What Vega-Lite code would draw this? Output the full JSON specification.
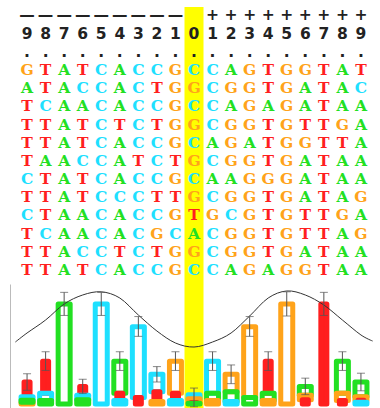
{
"$schema": "https://vega.github.io/schema/vega-lite/v6.json",
"background": "white",
"padding": {"left": 10, "top": 7, "right": 2, "bottom": 0},
"spacing": 0,
"bounds": "flush",
"config": {"view": {"stroke": null}},
"datasets": {
"hl": [{"p": 0}],
"hdr": [
{"p":-9,"r":-2,"t":"—"},{"p":-8,"r":-2,"t":"—"},{"p":-7,"r":-2,"t":"—"},{"p":-6,"r":-2,"t":"—"},{"p":-5,"r":-2,"t":"—"},{"p":-4,"r":-2,"t":"—"},{"p":-3,"r":-2,"t":"—"},{"p":-2,"r":-2,"t":"—"},{"p":-1,"r":-2,"t":"—"},
{"p":1,"r":-2,"t":"+"},{"p":2,"r":-2,"t":"+"},{"p":3,"r":-2,"t":"+"},{"p":4,"r":-2,"t":"+"},{"p":5,"r":-2,"t":"+"},{"p":6,"r":-2,"t":"+"},{"p":7,"r":-2,"t":"+"},{"p":8,"r":-2,"t":"+"},{"p":9,"r":-2,"t":"+"},
{"p":-9,"r":-1,"t":"9"},{"p":-8,"r":-1,"t":"8"},{"p":-7,"r":-1,"t":"7"},{"p":-6,"r":-1,"t":"6"},{"p":-5,"r":-1,"t":"5"},{"p":-4,"r":-1,"t":"4"},{"p":-3,"r":-1,"t":"3"},{"p":-2,"r":-1,"t":"2"},{"p":-1,"r":-1,"t":"1"},{"p":0,"r":-1,"t":"0"},
{"p":1,"r":-1,"t":"1"},{"p":2,"r":-1,"t":"2"},{"p":3,"r":-1,"t":"3"},{"p":4,"r":-1,"t":"4"},{"p":5,"r":-1,"t":"5"},{"p":6,"r":-1,"t":"6"},{"p":7,"r":-1,"t":"7"},{"p":8,"r":-1,"t":"8"},{"p":9,"r":-1,"t":"9"},
{"p":-9,"r":0,"t":"."},{"p":-8,"r":0,"t":"."},{"p":-7,"r":0,"t":"."},{"p":-6,"r":0,"t":"."},{"p":-5,"r":0,"t":"."},{"p":-4,"r":0,"t":"."},{"p":-3,"r":0,"t":"."},{"p":-2,"r":0,"t":"."},{"p":-1,"r":0,"t":"."},{"p":0,"r":0,"t":"."},
{"p":1,"r":0,"t":"."},{"p":2,"r":0,"t":"."},{"p":3,"r":0,"t":"."},{"p":4,"r":0,"t":"."},{"p":5,"r":0,"t":"."},{"p":6,"r":0,"t":"."},{"p":7,"r":0,"t":"."},{"p":8,"r":0,"t":"."},{"p":9,"r":0,"t":"."}
],
"seq": [
{"r":1,"p":-9,"n":"G"},{"r":1,"p":-8,"n":"T"},{"r":1,"p":-7,"n":"A"},{"r":1,"p":-6,"n":"T"},{"r":1,"p":-5,"n":"C"},{"r":1,"p":-4,"n":"A"},{"r":1,"p":-3,"n":"C"},{"r":1,"p":-2,"n":"C"},{"r":1,"p":-1,"n":"G"},{"r":1,"p":0,"n":"C"},{"r":1,"p":1,"n":"C"},{"r":1,"p":2,"n":"A"},{"r":1,"p":3,"n":"G"},{"r":1,"p":4,"n":"T"},{"r":1,"p":5,"n":"G"},{"r":1,"p":6,"n":"G"},{"r":1,"p":7,"n":"T"},{"r":1,"p":8,"n":"A"},{"r":1,"p":9,"n":"T"},
{"r":2,"p":-9,"n":"A"},{"r":2,"p":-8,"n":"T"},{"r":2,"p":-7,"n":"A"},{"r":2,"p":-6,"n":"C"},{"r":2,"p":-5,"n":"C"},{"r":2,"p":-4,"n":"A"},{"r":2,"p":-3,"n":"C"},{"r":2,"p":-2,"n":"T"},{"r":2,"p":-1,"n":"G"},{"r":2,"p":0,"n":"G"},{"r":2,"p":1,"n":"C"},{"r":2,"p":2,"n":"G"},{"r":2,"p":3,"n":"G"},{"r":2,"p":4,"n":"T"},{"r":2,"p":5,"n":"G"},{"r":2,"p":6,"n":"A"},{"r":2,"p":7,"n":"T"},{"r":2,"p":8,"n":"A"},{"r":2,"p":9,"n":"C"},
{"r":3,"p":-9,"n":"T"},{"r":3,"p":-8,"n":"C"},{"r":3,"p":-7,"n":"A"},{"r":3,"p":-6,"n":"A"},{"r":3,"p":-5,"n":"C"},{"r":3,"p":-4,"n":"A"},{"r":3,"p":-3,"n":"C"},{"r":3,"p":-2,"n":"C"},{"r":3,"p":-1,"n":"G"},{"r":3,"p":0,"n":"C"},{"r":3,"p":1,"n":"C"},{"r":3,"p":2,"n":"A"},{"r":3,"p":3,"n":"G"},{"r":3,"p":4,"n":"A"},{"r":3,"p":5,"n":"G"},{"r":3,"p":6,"n":"A"},{"r":3,"p":7,"n":"T"},{"r":3,"p":8,"n":"A"},{"r":3,"p":9,"n":"A"},
{"r":4,"p":-9,"n":"T"},{"r":4,"p":-8,"n":"T"},{"r":4,"p":-7,"n":"A"},{"r":4,"p":-6,"n":"T"},{"r":4,"p":-5,"n":"C"},{"r":4,"p":-4,"n":"T"},{"r":4,"p":-3,"n":"C"},{"r":4,"p":-2,"n":"T"},{"r":4,"p":-1,"n":"G"},{"r":4,"p":0,"n":"G"},{"r":4,"p":1,"n":"C"},{"r":4,"p":2,"n":"G"},{"r":4,"p":3,"n":"G"},{"r":4,"p":4,"n":"T"},{"r":4,"p":5,"n":"G"},{"r":4,"p":6,"n":"T"},{"r":4,"p":7,"n":"T"},{"r":4,"p":8,"n":"G"},{"r":4,"p":9,"n":"A"},
{"r":5,"p":-9,"n":"T"},{"r":5,"p":-8,"n":"T"},{"r":5,"p":-7,"n":"A"},{"r":5,"p":-6,"n":"T"},{"r":5,"p":-5,"n":"C"},{"r":5,"p":-4,"n":"A"},{"r":5,"p":-3,"n":"C"},{"r":5,"p":-2,"n":"C"},{"r":5,"p":-1,"n":"G"},{"r":5,"p":0,"n":"C"},{"r":5,"p":1,"n":"A"},{"r":5,"p":2,"n":"G"},{"r":5,"p":3,"n":"A"},{"r":5,"p":4,"n":"T"},{"r":5,"p":5,"n":"G"},{"r":5,"p":6,"n":"G"},{"r":5,"p":7,"n":"T"},{"r":5,"p":8,"n":"T"},{"r":5,"p":9,"n":"A"},
{"r":6,"p":-9,"n":"T"},{"r":6,"p":-8,"n":"A"},{"r":6,"p":-7,"n":"A"},{"r":6,"p":-6,"n":"C"},{"r":6,"p":-5,"n":"C"},{"r":6,"p":-4,"n":"A"},{"r":6,"p":-3,"n":"T"},{"r":6,"p":-2,"n":"C"},{"r":6,"p":-1,"n":"T"},{"r":6,"p":0,"n":"G"},{"r":6,"p":1,"n":"C"},{"r":6,"p":2,"n":"G"},{"r":6,"p":3,"n":"G"},{"r":6,"p":4,"n":"T"},{"r":6,"p":5,"n":"G"},{"r":6,"p":6,"n":"A"},{"r":6,"p":7,"n":"T"},{"r":6,"p":8,"n":"A"},{"r":6,"p":9,"n":"A"},
{"r":7,"p":-9,"n":"C"},{"r":7,"p":-8,"n":"T"},{"r":7,"p":-7,"n":"A"},{"r":7,"p":-6,"n":"T"},{"r":7,"p":-5,"n":"C"},{"r":7,"p":-4,"n":"A"},{"r":7,"p":-3,"n":"C"},{"r":7,"p":-2,"n":"C"},{"r":7,"p":-1,"n":"G"},{"r":7,"p":0,"n":"C"},{"r":7,"p":1,"n":"A"},{"r":7,"p":2,"n":"A"},{"r":7,"p":3,"n":"G"},{"r":7,"p":4,"n":"G"},{"r":7,"p":5,"n":"G"},{"r":7,"p":6,"n":"A"},{"r":7,"p":7,"n":"T"},{"r":7,"p":8,"n":"A"},{"r":7,"p":9,"n":"A"},
{"r":8,"p":-9,"n":"T"},{"r":8,"p":-8,"n":"T"},{"r":8,"p":-7,"n":"A"},{"r":8,"p":-6,"n":"T"},{"r":8,"p":-5,"n":"C"},{"r":8,"p":-4,"n":"C"},{"r":8,"p":-3,"n":"C"},{"r":8,"p":-2,"n":"T"},{"r":8,"p":-1,"n":"T"},{"r":8,"p":0,"n":"G"},{"r":8,"p":1,"n":"C"},{"r":8,"p":2,"n":"G"},{"r":8,"p":3,"n":"G"},{"r":8,"p":4,"n":"T"},{"r":8,"p":5,"n":"G"},{"r":8,"p":6,"n":"A"},{"r":8,"p":7,"n":"T"},{"r":8,"p":8,"n":"A"},{"r":8,"p":9,"n":"G"},
{"r":9,"p":-9,"n":"C"},{"r":9,"p":-8,"n":"T"},{"r":9,"p":-7,"n":"A"},{"r":9,"p":-6,"n":"A"},{"r":9,"p":-5,"n":"C"},{"r":9,"p":-4,"n":"A"},{"r":9,"p":-3,"n":"C"},{"r":9,"p":-2,"n":"C"},{"r":9,"p":-1,"n":"G"},{"r":9,"p":0,"n":"T"},{"r":9,"p":1,"n":"G"},{"r":9,"p":2,"n":"C"},{"r":9,"p":3,"n":"G"},{"r":9,"p":4,"n":"T"},{"r":9,"p":5,"n":"G"},{"r":9,"p":6,"n":"T"},{"r":9,"p":7,"n":"T"},{"r":9,"p":8,"n":"G"},{"r":9,"p":9,"n":"A"},
{"r":10,"p":-9,"n":"T"},{"r":10,"p":-8,"n":"C"},{"r":10,"p":-7,"n":"A"},{"r":10,"p":-6,"n":"A"},{"r":10,"p":-5,"n":"C"},{"r":10,"p":-4,"n":"A"},{"r":10,"p":-3,"n":"C"},{"r":10,"p":-2,"n":"G"},{"r":10,"p":-1,"n":"C"},{"r":10,"p":0,"n":"A"},{"r":10,"p":1,"n":"C"},{"r":10,"p":2,"n":"G"},{"r":10,"p":3,"n":"G"},{"r":10,"p":4,"n":"T"},{"r":10,"p":5,"n":"G"},{"r":10,"p":6,"n":"T"},{"r":10,"p":7,"n":"T"},{"r":10,"p":8,"n":"A"},{"r":10,"p":9,"n":"G"},
{"r":11,"p":-9,"n":"T"},{"r":11,"p":-8,"n":"T"},{"r":11,"p":-7,"n":"A"},{"r":11,"p":-6,"n":"C"},{"r":11,"p":-5,"n":"C"},{"r":11,"p":-4,"n":"T"},{"r":11,"p":-3,"n":"C"},{"r":11,"p":-2,"n":"T"},{"r":11,"p":-1,"n":"G"},{"r":11,"p":0,"n":"G"},{"r":11,"p":1,"n":"C"},{"r":11,"p":2,"n":"G"},{"r":11,"p":3,"n":"G"},{"r":11,"p":4,"n":"T"},{"r":11,"p":5,"n":"G"},{"r":11,"p":6,"n":"A"},{"r":11,"p":7,"n":"T"},{"r":11,"p":8,"n":"A"},{"r":11,"p":9,"n":"A"},
{"r":12,"p":-9,"n":"T"},{"r":12,"p":-8,"n":"T"},{"r":12,"p":-7,"n":"A"},{"r":12,"p":-6,"n":"T"},{"r":12,"p":-5,"n":"C"},{"r":12,"p":-4,"n":"A"},{"r":12,"p":-3,"n":"C"},{"r":12,"p":-2,"n":"C"},{"r":12,"p":-1,"n":"G"},{"r":12,"p":0,"n":"C"},{"r":12,"p":1,"n":"C"},{"r":12,"p":2,"n":"A"},{"r":12,"p":3,"n":"G"},{"r":12,"p":4,"n":"A"},{"r":12,"p":5,"n":"G"},{"r":12,"p":6,"n":"G"},{"r":12,"p":7,"n":"T"},{"r":12,"p":8,"n":"A"},{"r":12,"p":9,"n":"A"}
],
"logo": [
{"p":-9,"n":"T","h":0.268},{"p":-9,"n":"C","h":0.067},{"p":-9,"n":"G","h":0.033},{"p":-9,"n":"A","h":0.034},
{"p":-8,"n":"T","h":0.584},{"p":-8,"n":"C","h":0.13},{"p":-8,"n":"A","h":0.065},
{"p":-7,"n":"A","h":1.82},
{"p":-6,"n":"T","h":0.16},{"p":-6,"n":"C","h":0.08},{"p":-6,"n":"A","h":0.079},
{"p":-5,"n":"C","h":1.82},
{"p":-4,"n":"A","h":0.584},{"p":-4,"n":"T","h":0.13},{"p":-4,"n":"C","h":0.065},
{"p":-3,"n":"C","h":1.289},{"p":-3,"n":"T","h":0.117},
{"p":-2,"n":"C","h":0.315},{"p":-2,"n":"T","h":0.18},{"p":-2,"n":"G","h":0.045},
{"p":-1,"n":"G","h":0.584},{"p":-1,"n":"T","h":0.13},{"p":-1,"n":"C","h":0.065},
{"p":0,"n":"C","h":0.071},{"p":0,"n":"G","h":0.07},{"p":0,"n":"T","h":0.014},{"p":0,"n":"A","h":0.013},
{"p":1,"n":"C","h":0.584},{"p":1,"n":"A","h":0.13},{"p":1,"n":"G","h":0.065},
{"p":2,"n":"G","h":0.315},{"p":2,"n":"A","h":0.18},{"p":2,"n":"C","h":0.045},
{"p":3,"n":"G","h":1.289},{"p":3,"n":"A","h":0.117},
{"p":4,"n":"T","h":0.584},{"p":4,"n":"A","h":0.13},{"p":4,"n":"G","h":0.065},
{"p":5,"n":"G","h":1.82},
{"p":6,"n":"A","h":0.16},{"p":6,"n":"G","h":0.08},{"p":6,"n":"T","h":0.079},
{"p":7,"n":"T","h":1.82},
{"p":8,"n":"A","h":0.584},{"p":8,"n":"G","h":0.13},{"p":8,"n":"T","h":0.065},
{"p":9,"n":"A","h":0.268},{"p":9,"n":"G","h":0.067},{"p":9,"n":"T","h":0.034},{"p":9,"n":"C","h":0.033}
],
"err": [
{"p":-9,"lo":0.25,"hi":0.55},{"p":-8,"lo":0.61,"hi":0.95},{"p":-7,"lo":1.61,"hi":2.03},{"p":-6,"lo":0.19,"hi":0.45},{"p":-5,"lo":1.61,"hi":2.03},
{"p":-4,"lo":0.61,"hi":0.95},{"p":-3,"lo":1.23,"hi":1.59},{"p":-2,"lo":0.4,"hi":0.68},{"p":-1,"lo":0.61,"hi":0.95},{"p":0,"lo":-0.05,"hi":0.29},
{"p":1,"lo":0.61,"hi":0.95},{"p":2,"lo":0.37,"hi":0.71},{"p":3,"lo":1.23,"hi":1.59},{"p":4,"lo":0.61,"hi":0.95},{"p":5,"lo":1.6,"hi":2.04},
{"p":6,"lo":0.17,"hi":0.47},{"p":7,"lo":1.61,"hi":2.03},{"p":8,"lo":0.61,"hi":0.95},{"p":9,"lo":0.24,"hi":0.56}
],
"curve": [
{"p":-9.63,"b":1.127},{"p":-9,"b":1.291},{"p":-8,"b":1.527},{"p":-7,"b":1.818},{"p":-6,"b":1.982},{"p":-5,"b":2.04},{"p":-4,"b":1.927},{"p":-3,"b":1.618},{"p":-2,"b":1.327},{"p":-1,"b":1.109},{"p":0,"b":1.036},
{"p":1,"b":1.127},{"p":2,"b":1.291},{"p":3,"b":1.6},{"p":4,"b":1.927},{"p":5,"b":2.055},{"p":6,"b":1.982},{"p":7,"b":1.8},{"p":8,"b":1.527},{"p":9,"b":1.255},{"p":9.63,"b":1.145}
]
},
"vconcat": [
{
"width": 368, "height": 277,
"layer": [
{"data": {"name": "hl"}, "mark": {"type": "bar", "orient": "vertical", "color": "#ffff00", "width": 19},
 "encoding": {
  "x": {"field": "p", "type": "quantitative", "scale": {"domain": [-9.65, 9.65], "nice": false, "zero": false}, "axis": null},
  "y": {"datum": -2.465, "type": "quantitative", "scale": {"domain": [-2.465, 12.77], "nice": false, "zero": false, "reverse": true}, "axis": null},
  "y2": {"datum": 12.77}}},
{"data": {"name": "hdr"}, "mark": {"type": "text", "font": "DejaVu Sans", "fontWeight": "bold", "fontSize": 15.5, "color": "#222222", "baseline": "middle", "align": "center"},
 "encoding": {
  "x": {"field": "p", "type": "quantitative", "scale": {"domain": [-9.65, 9.65], "nice": false, "zero": false}, "axis": null},
  "y": {"field": "r", "type": "quantitative", "scale": {"domain": [-2.465, 12.77], "nice": false, "zero": false, "reverse": true}, "axis": null},
  "text": {"field": "t"}}},
{"data": {"name": "seq"}, "mark": {"type": "text", "font": "DejaVu Serif", "fontWeight": "bold", "fontSize": 15.5, "baseline": "middle", "align": "center"},
 "encoding": {
  "x": {"field": "p", "type": "quantitative", "scale": {"domain": [-9.65, 9.65], "nice": false, "zero": false}, "axis": null},
  "y": {"field": "r", "type": "quantitative", "scale": {"domain": [-2.465, 12.77], "nice": false, "zero": false, "reverse": true}, "axis": null},
  "text": {"field": "n"},
  "color": {"field": "n", "type": "nominal", "scale": {"domain": ["A", "C", "G", "T"], "range": ["#22e022", "#1ee0ff", "#ffa31a", "#ff1f1f"]}, "legend": null}}}
]
},
{
"width": 368, "height": 124,
"layer": [
{"data": {"name": "hl"}, "mark": {"type": "bar", "orient": "vertical", "color": "#ffff00", "width": 19},
 "encoding": {
  "x": {"field": "p", "type": "quantitative", "scale": {"domain": [-9.65, 9.65], "nice": false, "zero": false}, "axis": null},
  "y": {"datum": -0.0727, "type": "quantitative", "scale": {"domain": [-0.0727, 2.1818], "nice": false, "zero": false}, "axis": {"labels": false, "ticks": false, "title": null, "grid": false, "domainColor": "#bbbbbb"}},
  "y2": {"datum": 2.1818}}},
{"data": {"name": "logo"}, "mark": {"type": "bar", "orient": "vertical", "strokeWidth": 5, "strokeJoin": "round"},
 "encoding": {
  "x": {"field": "p", "type": "quantitative", "scale": {"domain": [-9.65, 9.65], "nice": false, "zero": false}, "axis": null},
  "y": {"field": "h", "type": "quantitative", "stack": "zero", "scale": {"domain": [-0.0727, 2.1818], "nice": false, "zero": false}, "axis": {"labels": false, "ticks": false, "title": null, "grid": false, "domainColor": "#bbbbbb"}},
  "fill": {"field": "n", "type": "nominal", "scale": {"domain": ["A", "C", "G", "T"], "range": ["#22e022", "#1ee0ff", "#ffa31a", "#ff1f1f"]}, "legend": null},
  "stroke": {"field": "n", "type": "nominal", "scale": {"domain": ["A", "C", "G", "T"], "range": ["#22e022", "#1ee0ff", "#ffa31a", "#ff1f1f"]}, "legend": null},
  "fillOpacity": {"condition": {"test": "datum.n === 'T'", "value": 1}, "value": 0},
  "size": {"condition": {"test": "datum.n === 'T'", "value": 6}, "value": 12},
  "order": {"field": "h", "type": "quantitative", "sort": "ascending"}}},
{"data": {"name": "curve"}, "mark": {"type": "line", "interpolate": "cardinal", "color": "#333333", "strokeWidth": 1},
 "encoding": {
  "x": {"field": "p", "type": "quantitative", "scale": {"domain": [-9.65, 9.65], "nice": false, "zero": false}, "axis": null},
  "y": {"field": "b", "type": "quantitative", "scale": {"domain": [-0.0727, 2.1818], "nice": false, "zero": false}, "axis": {"labels": false, "ticks": false, "title": null, "grid": false, "domainColor": "#bbbbbb"}}}},
{"data": {"name": "err"}, "mark": {"type": "errorbar", "ticks": {"size": 8, "color": "#555555"}, "rule": {"color": "#555555"}},
 "encoding": {
  "x": {"field": "p", "type": "quantitative", "scale": {"domain": [-9.65, 9.65], "nice": false, "zero": false}, "axis": null},
  "y": {"field": "lo", "type": "quantitative", "scale": {"domain": [-0.0727, 2.1818], "nice": false, "zero": false}, "axis": {"labels": false, "ticks": false, "title": null, "grid": false, "domainColor": "#bbbbbb"}},
  "y2": {"field": "hi"}}}
]
}
]
}
